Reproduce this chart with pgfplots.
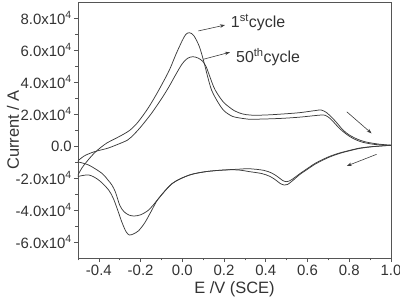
\documentclass[border=0pt]{standalone}
\usepackage{fontspec}
\setmainfont{Liberation Sans}
\usepackage{pgfplots}
\pgfplotsset{compat=1.18}
\usetikzlibrary{arrows.meta}
\definecolor{ink}{HTML}{333333}
\definecolor{axc}{HTML}{555555}
\definecolor{crv}{HTML}{3C3C3C}
\begin{document}
\begin{tikzpicture}
\begin{axis}[
  width=313bp, height=256bp, scale only axis,
  xmin=-0.5, xmax=1.0, ymin=-7, ymax=9,
  axis line style={axc, line width=0.8pt},
  tick style={axc, line width=0.7pt},
  tick align=outside, tick pos=left,
  major tick length=4bp, minor tick length=2.5bp,
  xtick={-0.4,-0.2,0,0.2,0.4,0.6,0.8,1.0},
  xticklabels={-0.4,-0.2,0.0,0.2,0.4,0.6,0.8,1.0},
  minor xtick={-0.5,-0.3,-0.1,0.1,0.3,0.5,0.7,0.9},
  ytick={-6,-4,-2,0,2,4,6,8},
  yticklabels={-6.0x10\textsuperscript{4},-4.0x10\textsuperscript{4},-2.0x10\textsuperscript{4},0.0,2.0x10\textsuperscript{4},4.0x10\textsuperscript{4},6.0x10\textsuperscript{4},8.0x10\textsuperscript{4}},
  minor ytick={-5,-3,-1,1,3,5,7},
  ticklabel style={font=\fontsize{15}{18}\selectfont, text=ink},
  yticklabel style={inner xsep=2bp},
  xlabel={E /V (SCE)}, ylabel={Current / A},
  every axis x label/.style={at={(rel axis cs:0.5,0)}, yshift=-31bp, anchor=center, font=\fontsize{16.5}{20}\selectfont, text=ink},
  every axis y label/.style={at={(rel axis cs:0,0.5)}, xshift=-65bp, rotate=90, anchor=center, font=\fontsize{16.5}{20}\selectfont, text=ink},
]
% 1st cycle forward
\addplot[crv, line width=0.75pt, smooth, tension=0.5] coordinates {
(-0.505,-1.92) (-0.48,-1.35) (-0.45,-0.85) (-0.42,-0.42) (-0.39,-0.08) (-0.36,0.2)
(-0.32,0.47) (-0.28,0.75) (-0.25,1.0) (-0.22,1.38) (-0.19,1.88) (-0.16,2.45) (-0.13,3.1)
(-0.1,3.8) (-0.062,4.75) (-0.03,5.75) (0.0,6.6) (0.017,6.98) (0.034,7.08) (0.055,6.9) (0.082,6.2)
(0.105,5.17) (0.12,4.4) (0.14,3.5) (0.17,2.75) (0.2,2.2) (0.241,1.85) (0.29,1.72) (0.32,1.67)
(0.40,1.69) (0.48,1.73) (0.56,1.80) (0.62,1.88) (0.66,1.93) (0.685,1.92) (0.71,1.7) (0.735,1.35)
(0.753,1.1) (0.785,0.75) (0.817,0.48) (0.86,0.25) (0.92,0.1) (1.0,0.04)
};
% 1st cycle reverse
\addplot[crv, line width=0.75pt, smooth, tension=0.5] coordinates {
(1.0,0.04) (0.95,0.0) (0.9,-0.06) (0.85,-0.15) (0.8,-0.3) (0.75,-0.48) (0.7,-0.72) (0.641,-1.1)
(0.6,-1.45) (0.561,-1.8) (0.53,-2.15) (0.505,-2.4) (0.489,-2.44) (0.47,-2.35) (0.45,-2.15)
(0.42,-1.9) (0.38,-1.72) (0.32,-1.6) (0.27,-1.5) (0.2,-1.5) (0.114,-1.6) (0.034,-1.81)
(-0.047,-2.33) (-0.115,-3.3) (-0.15,-4.1) (-0.18,-4.8) (-0.21,-5.3) (-0.235,-5.5) (-0.254,-5.56)
(-0.27,-5.35) (-0.29,-4.75) (-0.31,-4.0) (-0.33,-3.3) (-0.353,-2.75) (-0.401,-2.125)
(-0.449,-1.81) (-0.505,-1.92)
};
% 50th cycle forward
\addplot[crv, line width=0.75pt, smooth, tension=0.5] coordinates {
(-0.505,-0.98) (-0.47,-0.62) (-0.422,-0.36) (-0.358,-0.14) (-0.31,0.1) (-0.262,0.375)
(-0.23,0.75) (-0.198,1.21) (-0.15,2.0) (-0.118,2.6) (-0.09,3.15) (-0.062,3.75) (-0.03,4.5)
(0.0,5.15) (0.025,5.48) (0.05,5.58) (0.075,5.5) (0.097,5.3) (0.114,4.96) (0.13,4.4) (0.15,3.7)
(0.167,3.29) (0.2,2.7) (0.25,2.2) (0.29,2.0) (0.321,1.94) (0.353,1.92) (0.42,1.95) (0.48,2.0)
(0.56,2.08) (0.64,2.22) (0.665,2.25) (0.69,2.1) (0.715,1.8) (0.737,1.5) (0.77,1.0) (0.8,0.69)
(0.84,0.42) (0.88,0.25) (0.94,0.12) (1.0,0.05)
};
% 50th cycle reverse
\addplot[crv, line width=0.75pt, smooth, tension=0.5] coordinates {
(1.0,0.05) (0.95,0.0) (0.9,-0.05) (0.85,-0.13) (0.8,-0.28) (0.75,-0.45) (0.7,-0.68) (0.641,-1.05)
(0.6,-1.4) (0.561,-1.75) (0.53,-2.05) (0.51,-2.2) (0.497,-2.23) (0.48,-2.15) (0.46,-1.95)
(0.43,-1.7) (0.39,-1.52) (0.32,-1.42) (0.27,-1.45) (0.2,-1.5) (0.114,-1.6) (0.034,-1.82)
(-0.047,-2.33) (-0.115,-3.3) (-0.14,-3.7) (-0.166,-4.05) (-0.2,-4.3) (-0.23,-4.375)
(-0.255,-4.32) (-0.28,-4.1) (-0.3,-3.7) (-0.32,-2.9) (-0.337,-2.45) (-0.358,-2.1)
(-0.385,-1.71) (-0.449,-1.19) (-0.505,-0.98)
};
\draw[crv, line width=0.6pt, -{Stealth[length=5bp,width=3.5bp]}] (axis cs:0.0765,7.19) -- (axis cs:0.2045,7.56);
\draw[crv, line width=0.6pt, -{Stealth[length=5bp,width=3.5bp]}] (axis cs:0.1005,5.42) -- (axis cs:0.228,5.86);
\draw[crv, line width=0.6pt, -{Stealth[length=5bp,width=3.5bp]}] (axis cs:0.788,2.14) -- (axis cs:0.907,0.79);
\draw[crv, line width=0.6pt, -{Stealth[length=5bp,width=3.5bp]}] (axis cs:0.931,-0.52) -- (axis cs:0.788,-1.25);
\node[anchor=base west, font=\fontsize{16}{19}\selectfont, text=ink, inner sep=0pt] at (axis cs:0.232,7.375) {1\textsuperscript{st}cycle};
\node[anchor=base west, font=\fontsize{16}{19}\selectfont, text=ink, inner sep=0pt] at (axis cs:0.257,5.19) {50\textsuperscript{th}cycle};
\end{axis}
\pgfresetboundingbox
\path ([xshift=-78bp,yshift=-42bp]current axis.south west) rectangle ([xshift=9bp,yshift=2bp]current axis.north east);
\end{tikzpicture}
\end{document}
